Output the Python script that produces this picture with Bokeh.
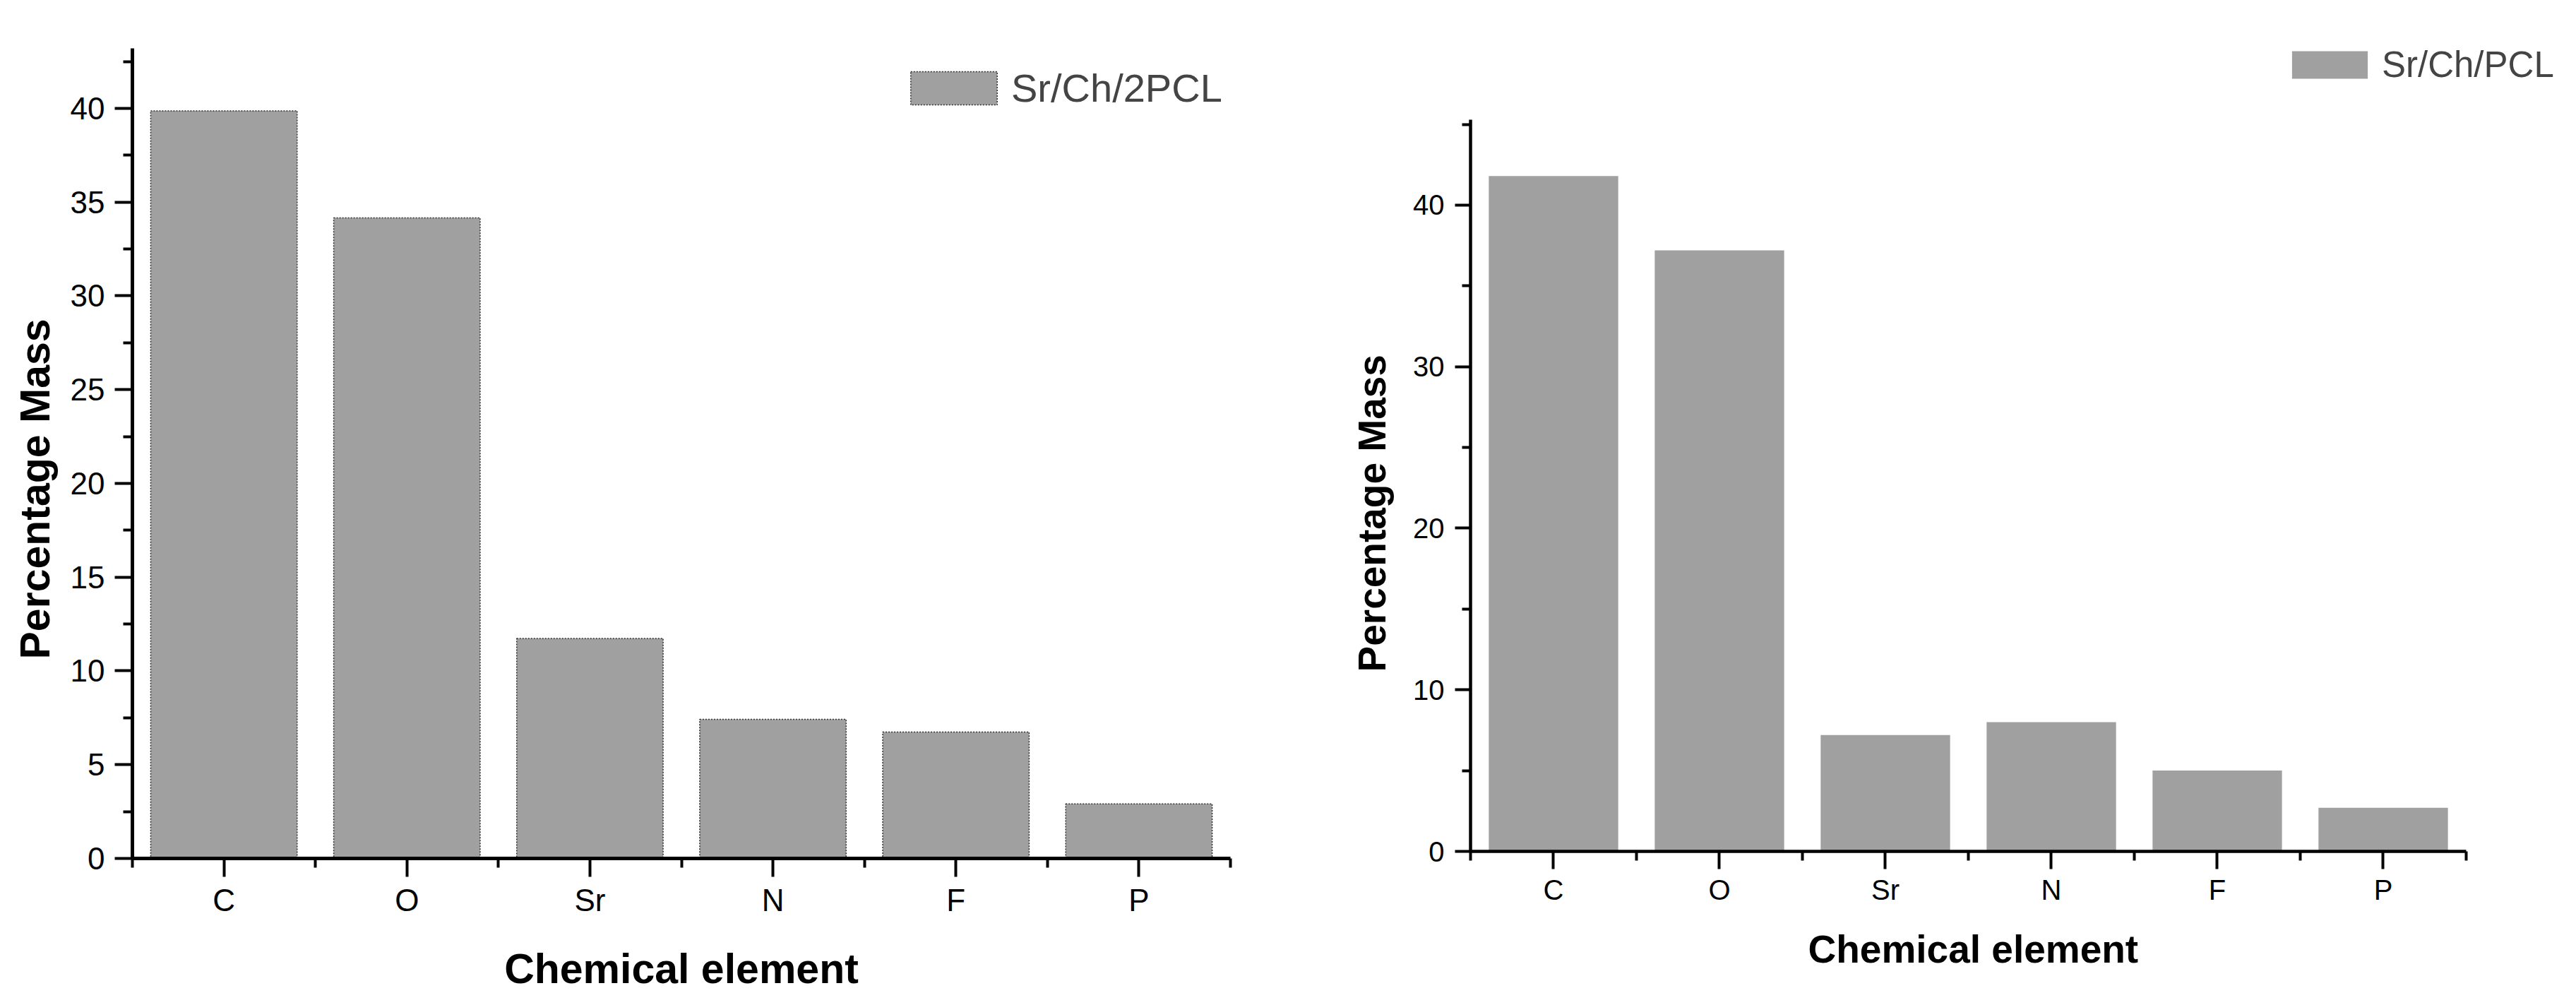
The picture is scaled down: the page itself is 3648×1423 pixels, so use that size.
from bokeh.plotting import figure
from bokeh.models import Range1d, FixedTicker, Legend, LegendItem, ColumnDataSource, Title
from bokeh.embed import file_html
from bokeh.resources import INLINE

# ---- data ----
elements = ["C", "O", "Sr", "N", "F", "P"]
mass_sr_ch_2pcl = [39.87, 34.16, 11.73, 7.42, 6.74, 2.91]
mass_sr_ch_pcl = [41.8, 37.2, 7.2, 8.0, 5.0, 2.7]
series_left = "Sr/Ch/2PCL"
series_right = "Sr/Ch/PCL"
yticks_left = [0, 5, 10, 15, 20, 25, 30, 35, 40]
yminor_left = [2.5, 7.5, 12.5, 17.5, 22.5, 27.5, 32.5, 37.5, 42.5]
yticks_right = [0, 10, 20, 30, 40]
yminor_right = [5, 15, 25, 35, 45]
x_title = "Chemical element"
y_title = "Percentage Mass"

FONT = "Liberation Sans"
BAR = "#a0a0a0"


def style_axis(ax, axis_w, tout, std, tick_font):
    ax.axis_line_width = axis_w
    ax.axis_line_color = "black"
    ax.major_tick_line_width = 4
    ax.minor_tick_line_width = 4
    ax.major_tick_in = 0
    ax.minor_tick_in = 0
    ax.major_tick_out = tout
    ax.minor_tick_out = 13 if tout > 23 else 12
    ax.major_label_text_font = FONT
    ax.major_label_text_font_size = f"{tick_font}px"
    ax.major_label_text_color = "black"
    ax.major_label_standoff = std


def style_label(ax, text, size, standoff):
    ax.axis_label = text
    ax.axis_label_text_font = FONT
    ax.axis_label_text_font_style = "bold"
    ax.axis_label_text_font_size = f"{size}px"
    ax.axis_label_text_color = "black"
    ax.axis_label_standoff = standoff


def title_box(text, size, offset, valign, standoff):
    return Title(text=text, align="left", offset=offset, vertical_align=valign,
                 standoff=standoff, text_font=FONT, text_font_style="bold",
                 text_font_size=f"{size}px", text_color="black")


def base_chart(values, y_axis_top, y_view_top, x_view_end, bar_width, width, height, borders, outline):
    n = len(elements)
    xpos = [i + 1 for i in range(n)]
    bounds = [i + 0.5 for i in range(n + 1)]
    src = ColumnDataSource(dict(x=xpos, top=values, name=elements))
    p = figure(width=width, height=height, output_backend="svg", toolbar_location=None,
               title=None,
               x_range=Range1d(0.5, x_view_end), y_range=Range1d(0, y_view_top),
               min_border_left=borders[0], min_border_right=borders[1],
               min_border_top=borders[2], min_border_bottom=borders[3])
    p.outline_line_color = None
    p.grid.visible = False
    p.background_fill_color = "white"
    p.border_fill_color = "white"
    if outline:
        r = p.vbar(x="x", top="top", bottom=0, width=bar_width, source=src,
                   fill_color=BAR, line_color="#303030", line_width=1.5, line_dash="2 2")
    else:
        r = p.vbar(x="x", top="top", bottom=0, width=bar_width, source=src,
                   fill_color=BAR, line_color=None)
    xa = p.xaxis[0]
    xa.ticker = FixedTicker(ticks=xpos, minor_ticks=bounds)
    xa.major_label_overrides = {x: e for x, e in zip(xpos, elements)}
    xa.bounds = (0.5, n + 0.5)
    ya = p.yaxis[0]
    ya.bounds = (0, y_axis_top)
    return p, r, xa, ya


def add_legend(p, r, label, loc, gw, gh, standoff, size):
    legend = Legend(items=[LegendItem(label=label, renderers=[r])], location=loc,
                    glyph_width=gw, glyph_height=gh, label_standoff=standoff,
                    label_text_font=FONT, label_text_font_size=f"{size}px",
                    padding=0, margin=0, spacing=0, border_line_color=None,
                    background_fill_alpha=0)
    p.add_layout(legend, "center")


# ---- left chart: Sr/Ch/2PCL ----
p1, r1, xa1, ya1 = base_chart(mass_sr_ch_2pcl, 43.2, 43.2, 6.5, 0.8, 1830, 1407,
                              (187, 88, 68, 192), True)
ya1.ticker = FixedTicker(ticks=yticks_left, minor_ticks=yminor_left)
style_axis(xa1, 5, 26, 8, 44)
style_axis(ya1, 5, 25, 14, 44)
style_label(xa1, x_title, 59, 37)
p1.add_layout(title_box(y_title, 59, 282, "bottom", 28), "left")
add_legend(p1, r1, series_left, (1087, 1058), 153, 59, 5, 56)

# ---- right chart: Sr/Ch/PCL ----
p2, r2, xa2, ya2 = base_chart(mass_sr_ch_pcl, 45.3, 50.4, 7.032, 0.78, 1802, 1407,
                              (252, 15, 52, 202), False)
ya2.ticker = FixedTicker(ticks=yticks_right, minor_ticks=yminor_right)
style_axis(xa2, 4.5, 25, 7, 40)
style_axis(ya2, 4.5, 22, 15, 40)
p2.add_layout(title_box(y_title, 55, 254, "bottom", 50), "left")
p2.add_layout(title_box(x_title, 55, 478, "top", 56), "below")
add_legend(p2, r2, series_right, (1150, 1084), 134, 49, 7, 51)

page = """{% block contents %}
<div style="display:flex;flex-direction:row;align-items:flex-start;">
{{ super() }}
</div>
{% endblock %}"""

open("out.html", "w").write(file_html([p1, p2], INLINE, template=page))
